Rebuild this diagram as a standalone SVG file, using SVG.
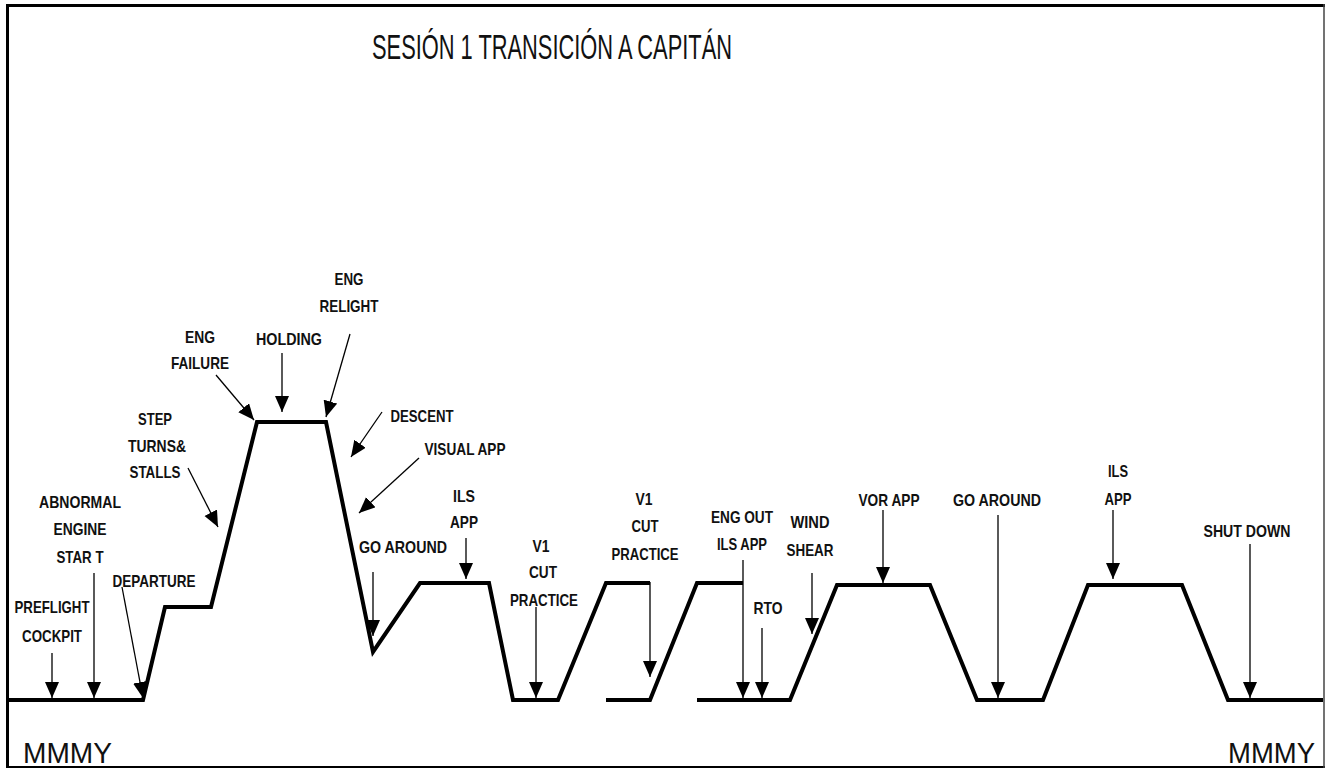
<svg xmlns="http://www.w3.org/2000/svg" width="1325" height="770" viewBox="0 0 1325 770">
<style>
.lbl{font-family:"Liberation Sans",Arial,sans-serif;font-weight:bold;font-size:16.5px;text-anchor:middle;fill:#111}
.big{font-family:"Liberation Sans",Arial,sans-serif;font-size:29px;fill:#111}
.title{font-family:"Liberation Sans",Arial,sans-serif;font-size:35px;fill:#111}
.prof{fill:none;stroke:#000;stroke-width:4;stroke-linejoin:miter}
.arr{fill:none;stroke:#000;stroke-width:1.3;marker-end:url(#ah)}
</style>
<defs>
<marker id="ah" markerUnits="userSpaceOnUse" markerWidth="17" markerHeight="15" refX="16" refY="7" orient="auto">
<path d="M0,0 L16,7 L0,14 z" fill="#000"/>
</marker>
</defs>
<rect width="1325" height="770" fill="#fff"/>
<g id="frame">
<line x1="6" y1="5.5" x2="1325" y2="5.5" stroke="#000" stroke-width="3"/>
<line x1="7.5" y1="4" x2="7.5" y2="768" stroke="#000" stroke-width="3"/>
<line x1="6" y1="767" x2="1325" y2="767" stroke="#000" stroke-width="2"/>
<line x1="1324" y1="4" x2="1324" y2="768" stroke="#444" stroke-width="1.5"/>
</g>
<g id="title">
<text class="title" x="372" y="59" textLength="360" lengthAdjust="spacingAndGlyphs">SESIÓN 1 TRANSICIÓN A CAPITÁN</text>
</g>
<g id="profile">
<polyline class="prof" points="8,700 143,700 165,607 211,607 257,422 326,422 373,652 420,583 489,583 513,700 558,700 606,583 650,583"/>
<polyline class="prof" points="606,700 650,700 697,583 743,583"/>
<polyline class="prof" points="697,700 790,700 837,585 930,585 977,700 1043,700 1088,585 1182,585 1228,700 1323,700"/>
</g>
<g id="connectors">
<line class="arr" x1="52" y1="653" x2="52" y2="698"/>
<line class="arr" x1="94" y1="573" x2="94" y2="698"/>
<line class="arr" x1="122" y1="587" x2="143" y2="698"/>
<line class="arr" x1="188" y1="468" x2="218" y2="527"/>
<line class="arr" x1="216" y1="375" x2="254" y2="420"/>
<line class="arr" x1="282" y1="353" x2="282" y2="412"/>
<line class="arr" x1="350" y1="334" x2="326" y2="417"/>
<line class="arr" x1="382" y1="412" x2="351" y2="457"/>
<line class="arr" x1="419" y1="458" x2="359" y2="513"/>
<line class="arr" x1="373" y1="572" x2="373" y2="636"/>
<line class="arr" x1="466" y1="538" x2="466" y2="579"/>
<line class="arr" x1="536" y1="607" x2="536" y2="698"/>
<line class="arr" x1="650" y1="582" x2="650" y2="677"/>
<line class="arr" x1="743" y1="560" x2="743" y2="698"/>
<line class="arr" x1="762" y1="628" x2="762" y2="698"/>
<line class="arr" x1="812" y1="573" x2="812" y2="634"/>
<line class="arr" x1="883" y1="510" x2="883" y2="583"/>
<line class="arr" x1="998" y1="515" x2="998" y2="698"/>
<line class="arr" x1="1113" y1="510" x2="1113" y2="579"/>
<line class="arr" x1="1250" y1="544" x2="1250" y2="698"/>
</g>
<g id="n-preflight"><text class="lbl" x="52" y="613" textLength="75" lengthAdjust="spacingAndGlyphs">PREFLIGHT</text><text class="lbl" x="52" y="642" textLength="60" lengthAdjust="spacingAndGlyphs">COCKPIT</text></g>
<g id="n-abnormal"><text class="lbl" x="80" y="508" textLength="82" lengthAdjust="spacingAndGlyphs">ABNORMAL</text><text class="lbl" x="80" y="535" textLength="53" lengthAdjust="spacingAndGlyphs">ENGINE</text><text class="lbl" x="80" y="563" textLength="47" lengthAdjust="spacingAndGlyphs">STAR T</text></g>
<g id="n-departure"><text class="lbl" x="154" y="587" textLength="83" lengthAdjust="spacingAndGlyphs">DEPARTURE</text></g>
<g id="n-step"><text class="lbl" x="155" y="425" textLength="34" lengthAdjust="spacingAndGlyphs">STEP</text><text class="lbl" x="157" y="452" textLength="58" lengthAdjust="spacingAndGlyphs">TURNS&amp;</text><text class="lbl" x="155" y="478" textLength="51" lengthAdjust="spacingAndGlyphs">STALLS</text></g>
<g id="n-engfailure"><text class="lbl" x="200" y="343" textLength="30" lengthAdjust="spacingAndGlyphs">ENG</text><text class="lbl" x="200" y="369" textLength="58" lengthAdjust="spacingAndGlyphs">FAILURE</text></g>
<g id="n-holding"><text class="lbl" x="289" y="345" textLength="66" lengthAdjust="spacingAndGlyphs">HOLDING</text></g>
<g id="n-relight"><text class="lbl" x="349" y="285" textLength="29" lengthAdjust="spacingAndGlyphs">ENG</text><text class="lbl" x="349" y="312" textLength="59" lengthAdjust="spacingAndGlyphs">RELIGHT</text></g>
<g id="n-descent"><text class="lbl" x="422" y="422" textLength="63" lengthAdjust="spacingAndGlyphs">DESCENT</text></g>
<g id="n-visual"><text class="lbl" x="465" y="455" textLength="81" lengthAdjust="spacingAndGlyphs">VISUAL APP</text></g>
<g id="n-goaround1"><text class="lbl" x="403" y="553" textLength="88" lengthAdjust="spacingAndGlyphs">GO AROUND</text></g>
<g id="n-ils1"><text class="lbl" x="464" y="502" textLength="22" lengthAdjust="spacingAndGlyphs">ILS</text><text class="lbl" x="464" y="528" textLength="28" lengthAdjust="spacingAndGlyphs">APP</text></g>
<g id="n-v1a"><text class="lbl" x="541" y="552" textLength="17" lengthAdjust="spacingAndGlyphs">V1</text><text class="lbl" x="543" y="578" textLength="28" lengthAdjust="spacingAndGlyphs">CUT</text><text class="lbl" x="544" y="606" textLength="68" lengthAdjust="spacingAndGlyphs">PRACTICE</text></g>
<g id="n-v1b"><text class="lbl" x="644" y="505" textLength="17" lengthAdjust="spacingAndGlyphs">V1</text><text class="lbl" x="645" y="532" textLength="27" lengthAdjust="spacingAndGlyphs">CUT</text><text class="lbl" x="645" y="560" textLength="67" lengthAdjust="spacingAndGlyphs">PRACTICE</text></g>
<g id="n-engout"><text class="lbl" x="742" y="523" textLength="62" lengthAdjust="spacingAndGlyphs">ENG OUT</text><text class="lbl" x="742" y="550" textLength="50" lengthAdjust="spacingAndGlyphs">ILS APP</text></g>
<g id="n-rto"><text class="lbl" x="768" y="614" textLength="29" lengthAdjust="spacingAndGlyphs">RTO</text></g>
<g id="n-windshear"><text class="lbl" x="810" y="528" textLength="39" lengthAdjust="spacingAndGlyphs">WIND</text><text class="lbl" x="810" y="556" textLength="47" lengthAdjust="spacingAndGlyphs">SHEAR</text></g>
<g id="n-vor"><text class="lbl" x="889" y="506" textLength="61" lengthAdjust="spacingAndGlyphs">VOR APP</text></g>
<g id="n-goaround2"><text class="lbl" x="997" y="506" textLength="88" lengthAdjust="spacingAndGlyphs">GO AROUND</text></g>
<g id="n-ils2"><text class="lbl" x="1118" y="477" textLength="20" lengthAdjust="spacingAndGlyphs">ILS</text><text class="lbl" x="1118" y="505" textLength="27" lengthAdjust="spacingAndGlyphs">APP</text></g>
<g id="n-shutdown"><text class="lbl" x="1247" y="537" textLength="87" lengthAdjust="spacingAndGlyphs">SHUT DOWN</text></g>
<g id="n-mmmy-left"><text class="big" x="23" y="763" textLength="89" lengthAdjust="spacingAndGlyphs">MMMY</text></g>
<g id="n-mmmy-right"><text class="big" x="1228" y="763" textLength="87" lengthAdjust="spacingAndGlyphs">MMMY</text></g>
</svg>
